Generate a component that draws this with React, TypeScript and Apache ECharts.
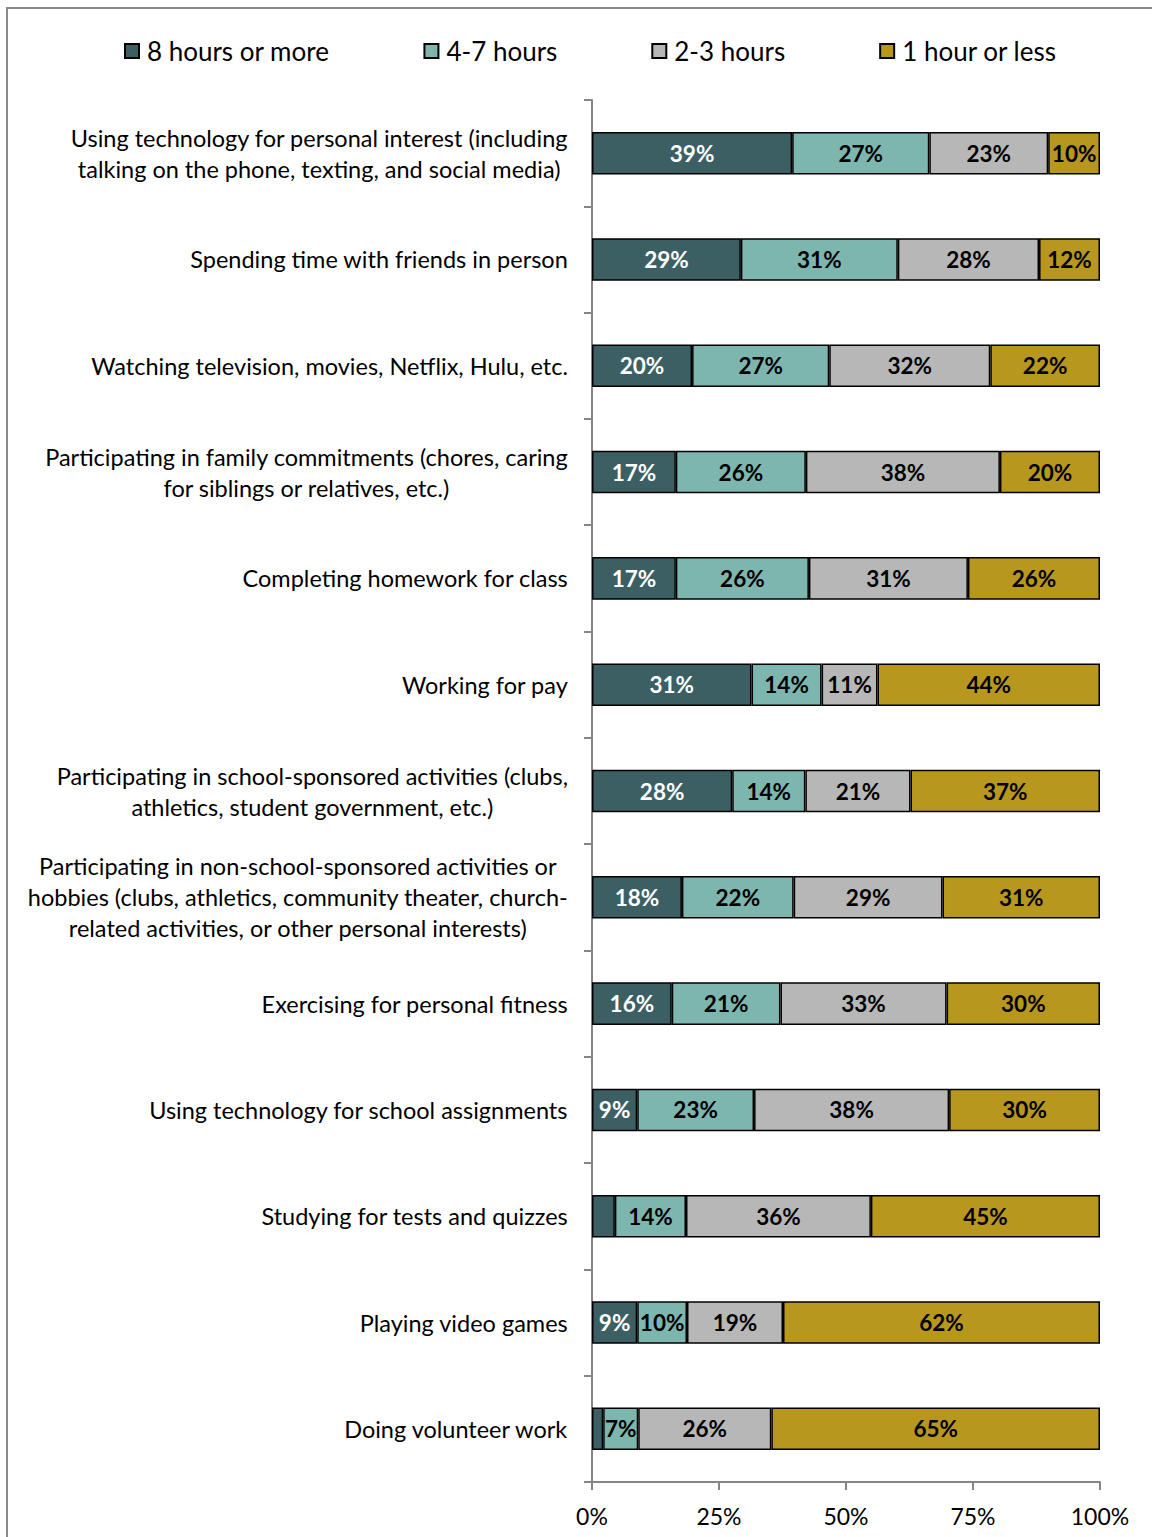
import React, { useEffect, useRef } from "react";
import * as echarts from "echarts";

const categories = [
  "Using technology for personal interest (including\ntalking on the phone, texting, and social media)",
  "Spending time with friends in person",
  "Watching television, movies, Netflix, Hulu, etc.",
  "Participating in family commitments (chores, caring\nfor siblings or relatives, etc.)",
  "Completing homework for class",
  "Working for pay",
  "Participating in school-sponsored activities (clubs,\nathletics, student government, etc.)",
  "Participating in non-school-sponsored activities or\nhobbies (clubs, athletics, community theater, church-\nrelated activities, or other personal interests)",
  "Exercising for personal fitness",
  "Using technology for school assignments",
  "Studying for tests and quizzes",
  "Playing video games",
  "Doing volunteer work",
];

const seriesNames = ["8 hours or more", "4-7 hours", "2-3 hours", "1 hour or less"];

const eightPlus = [39.4, 29.3, 19.7, 16.5, 16.5, 31.4, 27.6, 17.7, 15.7, 8.9, 4.5, 8.9, 2.2];
const fourToSeven = [27.0, 30.9, 27.0, 25.6, 26.2, 13.8, 14.4, 22.0, 21.4, 23.0, 14.0, 9.8, 6.9];
const twoToThree = [23.4, 27.8, 31.7, 38.2, 31.3, 11.0, 20.7, 29.3, 32.7, 38.4, 36.4, 18.9, 26.2];
const oneOrLess = [10.2, 12.0, 21.6, 19.7, 26.0, 43.8, 37.3, 31.0, 30.2, 29.7, 45.1, 62.4, 64.7];

const xTicks = [0, 25, 50, 75, 100];

const colors = ["#3C5F64", "#7DB6AF", "#B7B7B7", "#B8971F"];
const labelColors = ["#FFFFFF", "#000000", "#000000", "#000000"];
const FONT = "Lato";

export default function App() {
  const ref = useRef<HTMLDivElement>(null);

  useEffect(() => {
    if (!ref.current) return;
    const chart = echarts.init(ref.current, null, { renderer: "svg" });
    const data = [eightPlus, fourToSeven, twoToThree, oneOrLess];
    const option = {
      animation: false,
      backgroundColor: "#FFFFFF",
      textStyle: { fontFamily: FONT },
      graphic: [
        {
          type: "rect",
          shape: { x: 7, y: 8, width: 1300, height: 1700 },
          style: { fill: "none", stroke: "#8A8A8A", lineWidth: 2 },
          silent: true,
        },
      ],
      legend: {
        left: 124,
        top: 38,
        padding: 0,
        itemGap: 94,
        itemWidth: 14,
        itemHeight: 14,
        icon: "rect",
        data: seriesNames,
        textStyle: { fontFamily: FONT, fontSize: 26, color: "#000", padding: [0, 0, 0, 3] },
      },
      grid: { left: 592, right: 52, top: 100, bottom: 55, containLabel: false },
      xAxis: {
        type: "value",
        min: xTicks[0],
        max: xTicks[xTicks.length - 1],
        interval: 25,
        axisLine: { show: true, lineStyle: { color: "#868686", width: 2 } },
        axisTick: { show: true, length: 8, lineStyle: { color: "#868686", width: 2 } },
        splitLine: { show: false },
        axisLabel: {
          formatter: "{value}%",
          fontFamily: FONT,
          fontSize: 23,
          color: "#000",
          margin: 22,
        },
      },
      yAxis: {
        type: "category",
        inverse: true,
        data: categories,
        axisLine: { show: true, lineStyle: { color: "#868686", width: 2 } },
        axisTick: { show: true, length: 8, alignWithLabel: false, lineStyle: { color: "#868686", width: 2 } },
        axisLabel: {
          margin: 24,
          interval: 0,
          formatter: (v: string) =>
            v
              .split("\n")
              .map((l) => `{c|${l}}`)
              .join("\n"),
          rich: {
            c: { align: "center", fontFamily: FONT, fontSize: 23.5, lineHeight: 31, color: "#000" },
          },
        },
      },
      series: seriesNames.map((name, i) => ({
        name,
        type: "bar",
        stack: "total",
        barCategoryGap: "60%",
        data: data[i],
        itemStyle: { color: colors[i], borderColor: "#000", borderWidth: 1.5 },
        label: {
          show: true,
          position: "inside",
          fontFamily: FONT,
          fontWeight: "bold",
          fontSize: 22.5,
          color: labelColors[i],
          formatter: (p: any) => (p.value < 6 ? "" : `${Math.round(p.value)}%`),
        },
      })),
    };
    chart.setOption(option);
    return () => chart.dispose();
  }, []);

  return (
    <div
      ref={ref}
      style={{ position: "fixed", left: 0, top: 0, width: 1152, height: 1537 }}
    />
  );
}
